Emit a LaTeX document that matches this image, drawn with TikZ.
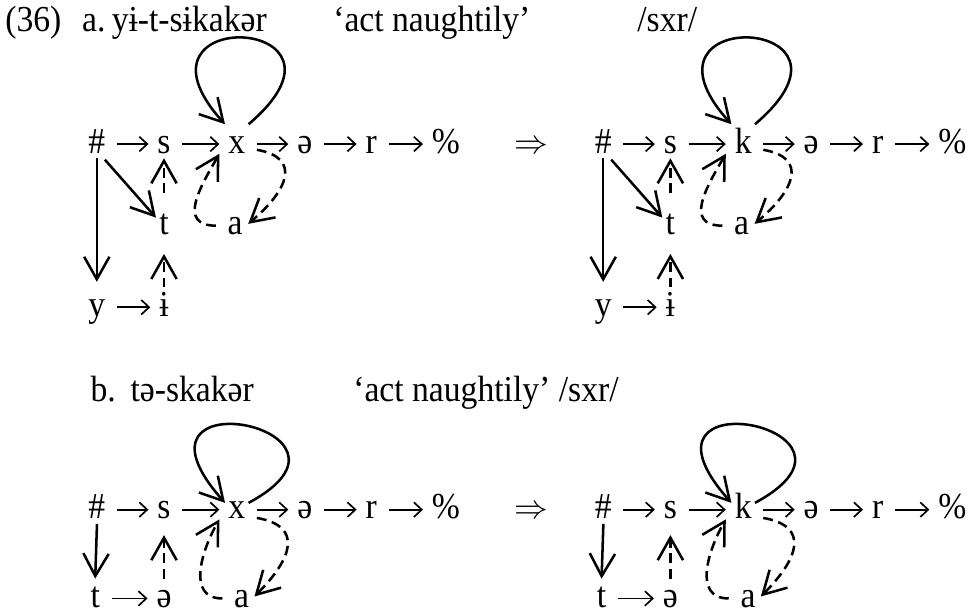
\documentclass[tikz,border=0pt]{standalone}
\usepackage{fontspec}
\setmainfont{Liberation Serif}[FakeStretch=0.92]
\usetikzlibrary{arrows.meta}

\tikzset{
  seg/.style={anchor=base, inner sep=1pt, text height=9.1pt, text depth=2.6pt},
  lbl/.style={anchor=base west, inner sep=0pt},
  lnk/.style={line width=0.6pt, -{Straight Barb[length=2.8pt,width=5.2pt]}, shorten <=3pt, shorten >=2pt},
  big/.style={line width=0.9pt, -{Straight Barb[length=8pt,width=9pt]}},
  dsh/.style={big, dash pattern=on 3.5pt off 2pt},
}

\begin{document}
\begin{tikzpicture}[font=\fontsize{13}{15}\selectfont]
  \useasboundingbox (0,0) rectangle (12.175,7.675);

  % titles
  \node[lbl] (n36) at (0.06,7.275) {(36)};
  \node[lbl] (la) at (1.02,7.275) {a.};
  \node[lbl] (wa) at (1.39,7.275) {yɨ-t-sɨkakər};
  \node[lbl] (ga) at (4.16,7.275) {`act naughtily'};
  \node[lbl] (ua) at (7.96,7.275) {/sxr/};
  \node[lbl] (lb) at (1.125,2.65) {b.};
  \node[lbl] (wb) at (1.625,2.65) {tə-skakər};
  \node[lbl] (gb) at (4.41,2.65) {`act naughtily' /sxr/};

  % (a) input
  \node[seg] (h1) at (1.21,5.76) {\#};
  \node[seg] (s1) at (2.05,5.76) {s};
  \node[seg] (x1) at (2.96,5.76) {x};
  \node[seg] (e1) at (3.81,5.76) {ə};
  \node[seg] (r1) at (4.64,5.76) {r};
  \node[seg] (p1) at (5.575,5.76) {\%};
  \node[seg] (imp1) at (6.64,5.76) {$\Rightarrow$};
  \node[seg] (t1) at (2.05,4.74) {t};
  \node[seg] (a1) at (2.94,4.74) {a};
  \node[seg] (y1) at (1.21,3.72) {y};
  \node[seg] (i1) at (2.05,3.72) {ɨ};
  \foreach \p/\q in {h1/s1, s1/x1, x1/e1, e1/r1, r1/p1, y1/i1}
    \draw[lnk] (\p) -- (\q);
  \draw[big, shorten <=-2pt] (h1.south east) -- (t1.135);
  \draw[big, shorten <=-2pt, shorten >=2pt] (h1.south) -- (y1.north);
  \draw[dsh, shorten <=4.5pt, shorten >=-2pt] (t1.north) -- (s1.south);
  \draw[dsh, shorten >=3pt] (i1.north) -- (t1.south);
  \draw[big] (x1.north east) .. controls +(1.6,1.36) and +(-1.375,1.52) .. (x1.north west);
  \draw[dsh, shorten <=3pt, shorten >=1pt] (x1.-20) to[out=-10, in=40, looseness=1.8] (a1.east);
  \draw[dsh, shorten <=3pt, shorten >=4pt] (a1.west) to[out=180, in=240, looseness=1.5] (x1.west);

  % (a) output
  \node[seg] (h2) at (7.54,5.76) {\#};
  \node[seg] (s2) at (8.38,5.76) {s};
  \node[seg] (k2) at (9.29,5.76) {k};
  \node[seg] (e2) at (10.14,5.76) {ə};
  \node[seg] (r2) at (10.97,5.76) {r};
  \node[seg] (p2) at (11.905,5.76) {\%};
  \node[seg] (t2) at (8.38,4.74) {t};
  \node[seg] (a2) at (9.27,4.74) {a};
  \node[seg] (y2) at (7.54,3.72) {y};
  \node[seg] (i2) at (8.38,3.72) {ɨ};
  \foreach \p/\q in {h2/s2, s2/k2, k2/e2, e2/r2, r2/p2, y2/i2}
    \draw[lnk] (\p) -- (\q);
  \draw[big, shorten <=-2pt] (h2.south east) -- (t2.135);
  \draw[big, shorten <=-2pt, shorten >=2pt] (h2.south) -- (y2.north);
  \draw[dsh, shorten <=4.5pt, shorten >=-2pt] (t2.north) -- (s2.south);
  \draw[dsh, shorten >=3pt] (i2.north) -- (t2.south);
  \draw[big] (k2.north east) .. controls +(1.6,1.36) and +(-1.375,1.52) .. (k2.north west);
  \draw[dsh, shorten <=3pt, shorten >=1pt] (k2.-20) to[out=-10, in=40, looseness=1.8] (a2.east);
  \draw[dsh, shorten <=3pt, shorten >=4pt] (a2.west) to[out=180, in=240, looseness=1.5] (k2.west);

  % (b) input
  \node[seg] (h3) at (1.21,1.19) {\#};
  \node[seg] (s3) at (2.05,1.19) {s};
  \node[seg] (x3) at (2.96,1.19) {x};
  \node[seg] (e3) at (3.81,1.19) {ə};
  \node[seg] (r3) at (4.64,1.19) {r};
  \node[seg] (p3) at (5.575,1.19) {\%};
  \node[seg] (imp3) at (6.64,1.19) {$\Rightarrow$};
  \node[seg] (t3) at (1.19,0.08) {t};
  \node[seg] (v3) at (2.05,0.08) {ə};
  \node[seg] (a3) at (3.02,0.08) {a};
  \foreach \p/\q in {h3/s3, s3/x3, x3/e3, e3/r3, r3/p3, t3/v3}
    \draw[lnk] (\p) -- (\q);
  \draw[big, shorten <=-2pt] (h3.south) -- (t3.north);
  \draw[dsh, shorten >=2pt] (v3.north) -- (s3.south);
  \draw[big] (x3.30) .. controls +(1.75,0.94) and +(-1.45,1.63) .. (x3.150);
  \draw[dsh, shorten <=3pt, shorten >=1pt] (x3.-30) to[out=-10, in=45, looseness=1.75] (a3.east);
  \draw[dsh, shorten <=3pt, shorten >=4pt] (a3.west) to[out=180, in=240, looseness=1.3] (x3.west);

  % (b) output
  \node[seg] (h4) at (7.54,1.19) {\#};
  \node[seg] (s4) at (8.38,1.19) {s};
  \node[seg] (k4) at (9.29,1.19) {k};
  \node[seg] (e4) at (10.14,1.19) {ə};
  \node[seg] (r4) at (10.97,1.19) {r};
  \node[seg] (p4) at (11.905,1.19) {\%};
  \node[seg] (t4) at (7.52,0.08) {t};
  \node[seg] (v4) at (8.38,0.08) {ə};
  \node[seg] (a4) at (9.35,0.08) {a};
  \foreach \p/\q in {h4/s4, s4/k4, k4/e4, e4/r4, r4/p4, t4/v4}
    \draw[lnk] (\p) -- (\q);
  \draw[big, shorten <=-2pt] (h4.south) -- (t4.north);
  \draw[dsh, shorten >=2pt] (v4.north) -- (s4.south);
  \draw[big] (k4.30) .. controls +(1.75,0.94) and +(-1.45,1.63) .. (k4.150);
  \draw[dsh, shorten <=3pt, shorten >=1pt] (k4.-30) to[out=-10, in=45, looseness=1.75] (a4.east);
  \draw[dsh, shorten <=3pt, shorten >=4pt] (a4.west) to[out=180, in=240, looseness=1.3] (k4.west);
\end{tikzpicture}
\end{document}
